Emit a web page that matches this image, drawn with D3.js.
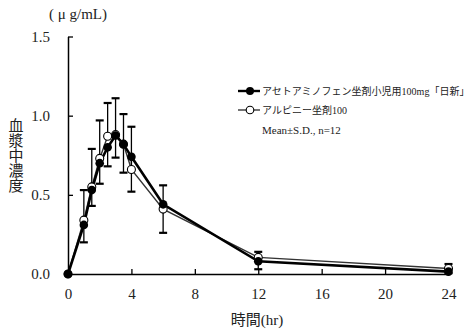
<!DOCTYPE html>
<html><head><meta charset="utf-8">
<script src="https://cdn.jsdelivr.net/npm/d3@7"></script>
<style>
body{margin:0;background:#fff;}
svg{display:block;}
text{font-family:"Liberation Serif","Noto Sans CJK JP",serif;fill:#222;}
</style></head>
<body><svg id="c" width="473" height="335"></svg>
<script>
const times = [0, 1, 1.5, 2, 2.5, 3, 3.5, 4, 6, 12, 24];
const nisshin = [0, 0.31, 0.53, 0.70, 0.80, 0.875, 0.82, 0.74, 0.44, 0.08, 0.015];
const nisshinSD = [0, 0.11, 0.10, 0.13, 0.12, 0.14, 0.18, 0.22, 0.18, 0.05, 0.01];
const alpiny = [0, 0.34, 0.55, 0.73, 0.87, 0.88, 0.82, 0.66, 0.41, 0.105, 0.035];
const alpinySD = [0, 0.19, 0.24, 0.24, 0.21, 0.23, 0.19, 0.27, 0.15, 0.035, 0.028];
const xTicks = [0, 4, 8, 12, 16, 20, 24];
const yTicks = [0.0, 0.5, 1.0, 1.5];
const legendLabels = ["アセトアミノフェン坐剤小児用100mg「日新」", "アルピニー坐剤100"];
const noteText = "Mean±S.D., n=12";
const yUnit = "( μ g/mL)";
const xTitle = "時間(hr)";
const yTitle = "血漿中濃度";

const svg = d3.select("#c");
const x = d3.scaleLinear().domain([0, 24]).range([68, 448.5]);
const y = d3.scaleLinear().domain([0, 1.5]).range([274, 36.5]);

// axes
const xAxis = d3.axisBottom(x).tickValues(xTicks).tickSizeInner(-5).tickSizeOuter(0).tickPadding(14).tickFormat(d3.format("d"));
const gx = svg.append("g").attr("transform", `translate(0,${y(0)})`).call(xAxis);
gx.select(".domain").attr("stroke", "#000").attr("stroke-width", 1.5);
gx.selectAll(".tick line").attr("stroke", "#000").attr("stroke-width", 1.3);
gx.selectAll(".tick text").attr("font-size", 15).attr("fill", "#222").style("font-family", "Liberation Serif");

const yAxis = d3.axisLeft(y).tickValues(yTicks).tickSizeInner(-5).tickSizeOuter(0).tickPadding(18).tickFormat(d3.format(".1f"));
const gy = svg.append("g").attr("transform", `translate(${x(0)},0)`).call(yAxis);
gy.select(".domain").attr("stroke", "#000").attr("stroke-width", 1.5);
gy.selectAll(".tick line").attr("stroke", "#000").attr("stroke-width", 1.3);
gy.selectAll(".tick text").attr("font-size", 15).attr("fill", "#222").style("font-family", "Liberation Serif");
svg.selectAll(".tick").filter(d => d === 0).select("line").remove();

// titles
svg.append("text").attr("x", 78).attr("y", 19).attr("text-anchor", "middle").attr("font-size", 15).text(yUnit);
svg.append("text").attr("x", 257).attr("y", 325).attr("text-anchor", "middle").attr("font-size", 15).text(xTitle);
svg.append("text").attr("x", 16).attr("y", 118)
  .style("writing-mode", "vertical-rl").style("font-family", "Noto Sans CJK JP")
  .attr("font-size", 15).text(yTitle);

// error bars
const cap = 4;
function errBars(vals, sds, dir) {
  const g = svg.append("g").attr("stroke", "#000").attr("stroke-width", 1.3);
  times.forEach((t, i) => {
    if (sds[i] <= 0) return;
    const y0 = y(vals[i]), y1 = y(vals[i] + dir * sds[i]);
    g.append("line").attr("x1", x(t)).attr("x2", x(t)).attr("y1", y0).attr("y2", y1);
    g.append("line").attr("x1", x(t) - cap).attr("x2", x(t) + cap).attr("y1", y1).attr("y2", y1).attr("stroke-width", 2.2);
  });
}
errBars(alpiny, alpinySD, 1);
errBars(nisshin, nisshinSD, -1);

const line = d3.line().x((d, i) => x(times[i])).y(d => y(d));
svg.append("path").datum(alpiny).attr("d", line).attr("fill", "none").attr("stroke", "#333").attr("stroke-width", 1.4);
svg.append("path").datum(nisshin).attr("d", line).attr("fill", "none").attr("stroke", "#000").attr("stroke-width", 2.6);

svg.append("g").selectAll("circle").data(alpiny).join("circle")
  .attr("cx", (d, i) => x(times[i])).attr("cy", d => y(d)).attr("r", 4)
  .attr("fill", "#fff").attr("stroke", "#000").attr("stroke-width", 1.1);
svg.append("g").selectAll("circle").data(nisshin).join("circle")
  .attr("cx", (d, i) => x(times[i])).attr("cy", d => y(d)).attr("r", 4.3)
  .attr("fill", "#000");

// legend
const lg = svg.append("g");
const ly = [91, 110];
lg.append("line").attr("x1", 238).attr("x2", 260).attr("y1", ly[0]).attr("y2", ly[0]).attr("stroke", "#000").attr("stroke-width", 2.4);
lg.append("circle").attr("cx", 250).attr("cy", ly[0]).attr("r", 4).attr("fill", "#000");
lg.append("line").attr("x1", 238).attr("x2", 260).attr("y1", ly[1]).attr("y2", ly[1]).attr("stroke", "#000").attr("stroke-width", 1.1);
lg.append("circle").attr("cx", 250).attr("cy", ly[1]).attr("r", 3.8).attr("fill", "#fff").attr("stroke", "#000").attr("stroke-width", 1.1);
lg.selectAll("text.l").data(legendLabels).join("text").attr("class", "l")
  .attr("x", 262).attr("y", (d, i) => ly[i] + 4).attr("font-size", 10).text(d => d);
lg.append("text").attr("x", 262).attr("y", 134).attr("font-size", 11).text(noteText);
</script></body></html>
